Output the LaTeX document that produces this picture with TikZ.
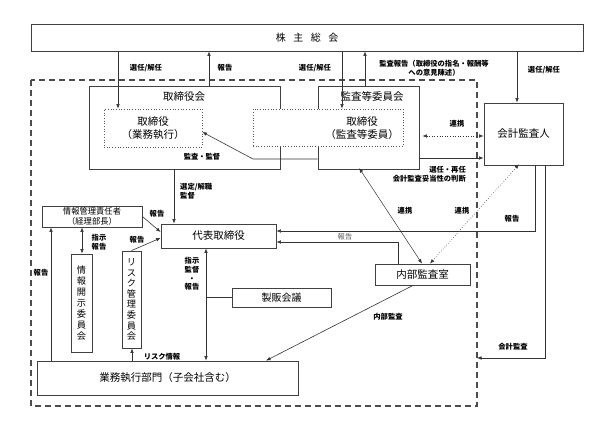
\documentclass[tikz,border=0pt]{standalone}
\usepackage{fontspec}
\setmainfont{Noto Sans CJK JP}
\usetikzlibrary{arrows.meta}
\begin{document}
\begin{tikzpicture}[x=1pt,y=-1pt,
  box/.style={draw=black!75, line width=0.8pt, inner sep=0pt},
  dotbox/.style={draw=black!65, dotted, line width=0.7pt, fill=white, inner sep=0pt},
  conn/.style={draw=black!80, line width=0.6pt},
  arr/.style={conn, -{Latex[length=4.5pt,width=3.6pt]}},
  darr/.style={conn, {Latex[length=4.5pt,width=3.6pt]}-{Latex[length=4.5pt,width=3.6pt]}},
  lbl/.style={font=\fontsize{7.3}{8.8}\selectfont\bfseries, inner sep=0pt, align=center},
  big/.style={font=\fontsize{10.5}{12.5}\selectfont, inner sep=0pt, align=center},
  vbox/.style={box, align=center, font=\fontsize{9.2}{11}\selectfont}
]
\useasboundingbox (0,0) rectangle (603,430);

% outer dashed frame
\draw[draw=black!70, line width=1.1pt, dash pattern=on 6pt off 4pt] (31,80) rectangle (477,406);
\coordinate (dashR) at (477,358);

% main boxes
\node[box, minimum width=552, minimum height=27] (sh) at (307,37.5) {};
\node[font=\fontsize{10}{12}\selectfont, inner sep=0pt] (shT) at (sh) {株\hspace{0.75em}主\hspace{0.75em}総\hspace{0.75em}会};

\node[box, minimum width=191, minimum height=83] (board) at (184.5,127.5) {};
\node[box, minimum width=101, minimum height=83] (acb) at (368.5,127.5) {};
\node[big] (boardT) at (184,97) {取締役会};
\node[big] (acbT) at (372,97) {監査等委員会};

\node[dotbox, minimum width=98, minimum height=38] (dir1) at (153,128) {};
\node[big] (dir1T) at (153,128) {取締役\\（業務執行）};
\node[dotbox, minimum width=150, minimum height=37] (dir2) at (328,127.5) {};
\node[big] (dir2T) at (362,128) {取締役\\（監査等委員）};

\node[box, big, minimum width=79, minimum height=62] (auditor) at (523.5,134) {会計監査人};
\node[box, big, minimum width=115, minimum height=24] (rep) at (218.5,236) {代表取締役};
\node[box, align=center, font=\fontsize{8.3}{9.3}\selectfont, minimum width=100, minimum height=21] (info) at (92,216.5) {情報管理責任者\\（経理部長）};
\node[vbox, minimum width=21, minimum height=98] (disc) at (81.5,303) {情\\報\\開\\示\\委\\員\\会};
\node[vbox, font=\fontsize{9.2}{10.6}\selectfont, minimum width=19, minimum height=97] (risk) at (131.5,299.5) {リ\\ス\\ク\\管\\理\\委\\員\\会};
\node[box, font=\fontsize{10}{12}\selectfont, minimum width=99, minimum height=19] (sales) at (281.5,297.5) {製販会議};
\node[box, big, minimum width=95, minimum height=21] (ia) at (422.5,274.5) {内部監査室};
\node[box, big, minimum width=261, minimum height=34] (ops) at (167.5,378) {業務執行部門（子会社含む）};

% helper coordinates
\coordinate (xA) at (118,0);
\coordinate (xB) at (209,0);
\coordinate (xC) at (342,0);
\coordinate (xD) at (365,0);
\coordinate (xE) at (517,0);
\coordinate (xF) at (174,0);
\coordinate (xG) at (82,0);
\coordinate (xH) at (51,0);
\coordinate (xI) at (132,0);
\coordinate (xJ) at (206,0);
\coordinate (bend1) at (253,159);
\coordinate (tip1) at (0,132);
\coordinate (y136) at (0,136);
\coordinate (y158) at (0,158);
\coordinate (c17) at (535,231);
\coordinate (c18) at (398,242);
\coordinate (c22) at (545,358);
\coordinate (p19a) at (360,0);
\coordinate (p19b) at (422,0);
\coordinate (p20a) at (518,0);
\coordinate (p20b) at (430,0);
\coordinate (p21a) at (413,0);
\coordinate (p21b) at (266,0);

% connectors
\draw[arr] (sh.south -| xA) -- (dir1.north -| xA);
\draw[arr] (board.north -| xB) -- (sh.south -| xB);
\draw[arr] (sh.south -| xC) -- (dir2.north -| xC);
\draw[arr] (acb.north -| xD) -- (sh.south -| xD);
\draw[arr] (sh.south -| xE) -- (auditor.north -| xE);
\draw[arr] (bend1 -| acb.west) -- (bend1) -- (dir1.east |- tip1);
\draw[darr, dotted, shorten <=3pt] (acb.east |- y136) -- (auditor.west |- y136);
\draw[arr] (acb.east |- y158) -- (auditor.west |- y158);
\draw[arr] (board.south -| xF) -- (rep.north -| xF);
\draw[arr] (info.east) -- ([yshift=4pt]rep.west);
\draw[arr] (risk.north) -- ([yshift=-2pt]rep.west);
\draw[darr] (info.south -| xG) -- (disc.north -| xG);
\draw[arr] (ops.north -| xH) -- (info.south -| xH);
\draw[arr] (ops.north -| xI) -- (risk.south -| xI);
\draw[darr] (rep.south -| xJ) -- (ops.north -| xJ);
\draw[conn] (sales.west) -- (sales.west -| xJ);
\draw[arr] (auditor.south -| c17) -- (c17) -- (c17 -| rep.east);
\draw[arr] (ia.north -| c18) -- (c18) -- (c18 -| rep.east);
\draw[darr, line width=0.5pt, shorten <=-1.5pt] (acb.south -| p19a) -- (ia.north -| p19b);
\draw[darr, dotted, line width=0.6pt, shorten <=-1.5pt] (auditor.south -| p20a) -- (ia.north -| p20b);
\draw[arr] (ia.south -| p21a) -- (ops.north -| p21b);
\draw[arr] (auditor.south -| c22) -- (c22) -- (dashR);

% labels
\node[lbl] (l1) at (146,68) {選任/解任};
\node[lbl] (l2) at (225,68) {報告};
\node[lbl] (l3) at (315,68) {選任/解任};
\node[lbl] (l4) at (434,68) {監査報告（取締役の指名・報酬等\\への意見陳述）};
\node[lbl] (l5) at (544,70) {選任/解任};
\node[lbl] (l6) at (457,124) {連携};
\node[lbl] (l7) at (202,157) {監査・監督};
\node[lbl, align=right, anchor=east] (l8) at (466,174.5) {選任・再任\\会計監査妥当性の判断};
\node[lbl, align=left, anchor=west] (l9) at (180,191) {選定/解職\\監督};
\node[lbl] (l10) at (157,214) {報告};
\node[lbl] (l11) at (137,240) {報告};
\node[lbl] (l12) at (99,242.5) {指示\\報告};
\node[lbl] (l13) at (41,273) {報告};
\node[lbl] (l14) at (192,274) {指示\\監督\\・\\報告};
\node[lbl] (l15) at (405,211) {連携};
\node[lbl] (l16) at (462,211) {連携};
\node[lbl] (l17) at (512,219) {報告};
\node[lbl, font=\fontsize{7.3}{8.8}\selectfont, text=black!65] (l18) at (345,237) {報告};
\node[lbl] (l19) at (388,317) {内部監査};
\node[lbl] (l20) at (162,357) {リスク情報};
\node[lbl] (l21) at (513,347) {会計監査};
\end{tikzpicture}
\end{document}
